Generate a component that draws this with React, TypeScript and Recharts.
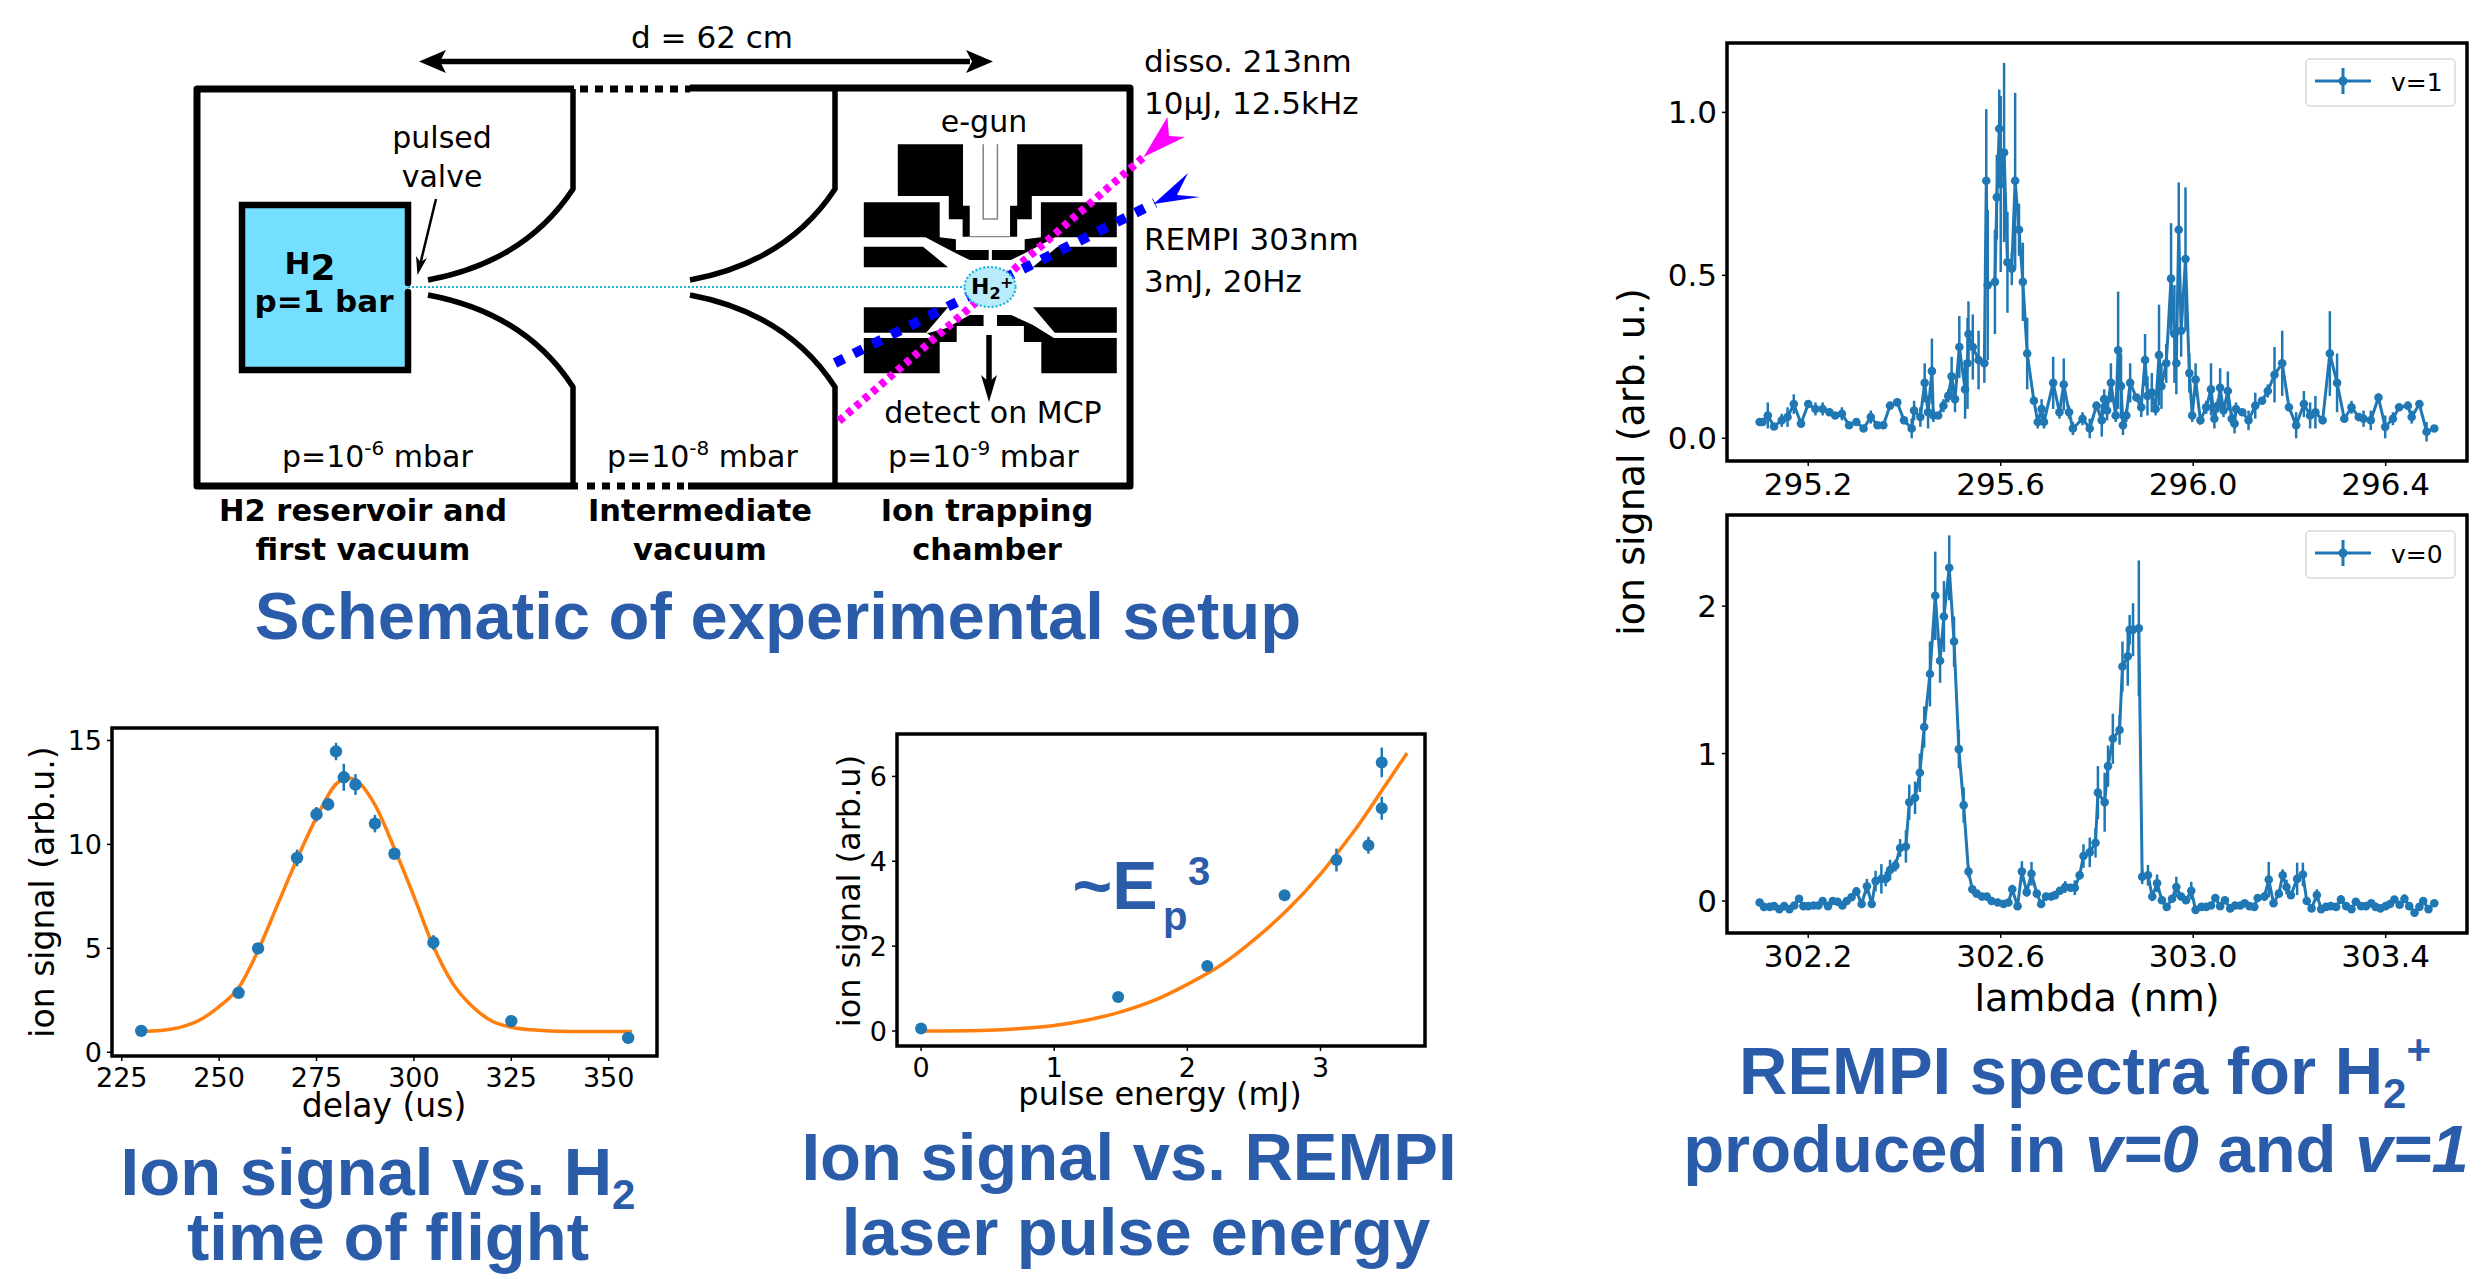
import { ComposedChart, Line, XAxis, YAxis, ErrorBar, ReferenceArea, Legend } from "recharts";

const BLUE = "#1f77b4";
const ORANGE = "#ff7f0e";
const TITLE = "#2a5caa";
const SANS = "'DejaVu Sans'";
const HEAD = "'Liberation Sans'";

// v=1 spectrum
const lambdaV1 = [295.099, 295.105, 295.116, 295.129, 295.145, 295.157, 295.17, 295.185, 295.2, 295.215, 295.23, 295.244, 295.256, 295.27, 295.285, 295.3, 295.315, 295.33, 295.344, 295.356, 295.37, 295.385, 295.399, 295.415, 295.42, 295.433, 295.442, 295.449, 295.457, 295.46, 295.47, 295.481, 295.491, 295.498, 295.505, 295.514, 295.526, 295.531, 295.533, 295.542, 295.554, 295.566, 295.57, 295.573, 295.588, 295.592, 295.597, 295.6, 295.607, 295.614, 295.623, 295.63, 295.638, 295.646, 295.655, 295.669, 295.677, 295.685, 295.69, 295.709, 295.722, 295.731, 295.742, 295.75, 295.77, 295.785, 295.799, 295.81, 295.815, 295.821, 295.829, 295.839, 295.844, 295.85, 295.854, 295.861, 295.869, 295.882, 295.892, 295.9, 295.905, 295.914, 295.922, 295.929, 295.934, 295.944, 295.954, 295.961, 295.965, 295.97, 295.975, 295.984, 295.992, 295.998, 296.005, 296.015, 296.027, 296.037, 296.044, 296.051, 296.056, 296.063, 296.072, 296.08, 296.086, 296.089, 296.102, 296.115, 296.129, 296.143, 296.155, 296.169, 296.185, 296.199, 296.214, 296.23, 296.243, 296.254, 296.269, 296.284, 296.299, 296.314, 296.329, 296.344, 296.354, 296.369, 296.385, 296.399, 296.415, 296.428, 296.446, 296.454, 296.47, 296.485, 296.501];
const signalV1 = [0.05, 0.05, 0.07, 0.036, 0.055, 0.065, 0.105, 0.045, 0.105, 0.09, 0.09, 0.08, 0.07, 0.075, 0.04, 0.05, 0.03, 0.065, 0.04, 0.04, 0.1, 0.11, 0.055, 0.03, 0.085, 0.065, 0.17, 0.08, 0.206, 0.07, 0.07, 0.1, 0.13, 0.19, 0.12, 0.28, 0.15, 0.23, 0.32, 0.28, 0.24, 0.23, 0.79, 0.47, 0.48, 0.74, 0.95, 0.78, 0.877, 0.54, 0.52, 0.79, 0.64, 0.48, 0.26, 0.115, 0.05, 0.09, 0.05, 0.17, 0.08, 0.165, 0.08, 0.03, 0.06, 0.03, 0.1, 0.055, 0.12, 0.085, 0.17, 0.07, 0.27, 0.16, 0.04, 0.07, 0.17, 0.125, 0.095, 0.24, 0.13, 0.14, 0.09, 0.255, 0.16, 0.23, 0.49, 0.32, 0.23, 0.64, 0.33, 0.55, 0.2, 0.07, 0.18, 0.055, 0.095, 0.15, 0.06, 0.1, 0.155, 0.085, 0.145, 0.06, 0.045, 0.09, 0.08, 0.055, 0.1, 0.115, 0.145, 0.195, 0.23, 0.095, 0.04, 0.105, 0.07, 0.08, 0.055, 0.26, 0.17, 0.06, 0.095, 0.065, 0.06, 0.055, 0.125, 0.035, 0.06, 0.095, 0.1, 0.065, 0.105, 0.02, 0.03];
const errorV1 = [0.01, 0.01, 0.04, 0.01, 0.02, 0.03, 0.03, 0.01, 0.01, 0.02, 0.02, 0.01, 0.01, 0.02, 0.01, 0.01, 0.01, 0.02, 0.01, 0.01, 0.01, 0.01, 0.01, 0.03, 0.03, 0.03, 0.06, 0.05, 0.1, 0.02, 0.01, 0.02, 0.02, 0.06, 0.04, 0.095, 0.09, 0.14, 0.1, 0.1, 0.09, 0.06, 0.22, 0.23, 0.16, 0.13, 0.12, 0.27, 0.275, 0.155, 0.05, 0.27, 0.08, 0.12, 0.11, 0.01, 0.02, 0.03, 0.02, 0.08, 0.02, 0.08, 0.02, 0.02, 0.02, 0.03, 0.01, 0.05, 0.03, 0.03, 0.06, 0.02, 0.18, 0.1, 0.03, 0.02, 0.06, 0.01, 0.03, 0.08, 0.06, 0.06, 0.02, 0.155, 0.07, 0.06, 0.17, 0.15, 0.095, 0.145, 0.08, 0.22, 0.06, 0.02, 0.05, 0.01, 0.02, 0.08, 0.03, 0.02, 0.06, 0.02, 0.06, 0.02, 0.03, 0.02, 0.01, 0.03, 0.04, 0.01, 0.02, 0.085, 0.1, 0.01, 0.04, 0.04, 0.04, 0.05, 0.01, 0.13, 0.09, 0.01, 0.02, 0.01, 0.025, 0.03, 0.01, 0.035, 0.02, 0.01, 0.01, 0.02, 0.01, 0.03, 0.01];

// v=0 spectrum
const lambdaV0 = [302.099, 302.108, 302.12, 302.129, 302.14, 302.15, 302.161, 302.171, 302.181, 302.19, 302.2, 302.211, 302.221, 302.23, 302.241, 302.251, 302.261, 302.271, 302.28, 302.29, 302.3, 302.311, 302.322, 302.332, 302.34, 302.352, 302.361, 302.37, 302.381, 302.391, 302.403, 302.41, 302.422, 302.432, 302.441, 302.453, 302.464, 302.474, 302.482, 302.493, 302.503, 302.513, 302.523, 302.533, 302.541, 302.55, 302.561, 302.571, 302.581, 302.594, 302.606, 302.616, 302.624, 302.635, 302.644, 302.654, 302.664, 302.675, 302.684, 302.694, 302.705, 302.713, 302.723, 302.734, 302.745, 302.754, 302.764, 302.772, 302.785, 302.797, 302.802, 302.816, 302.823, 302.833, 302.847, 302.853, 302.864, 302.868, 302.875, 302.887, 302.894, 302.906, 302.915, 302.925, 302.935, 302.945, 302.956, 302.965, 302.975, 302.985, 302.996, 303.005, 303.017, 303.027, 303.037, 303.046, 303.056, 303.066, 303.077, 303.087, 303.098, 303.107, 303.117, 303.127, 303.134, 303.148, 303.157, 303.167, 303.178, 303.186, 303.194, 303.203, 303.216, 303.228, 303.236, 303.246, 303.257, 303.266, 303.276, 303.286, 303.297, 303.307, 303.318, 303.329, 303.338, 303.349, 303.359, 303.37, 303.379, 303.389, 303.4, 303.409, 303.418, 303.429, 303.439, 303.449, 303.46, 303.47, 303.478, 303.489, 303.501];
const signalV0 = [-0.01, -0.04, -0.04, -0.035, -0.055, -0.035, -0.055, -0.03, 0.015, -0.035, -0.035, -0.03, -0.03, 0, -0.035, 0, -0.005, -0.03, 0, 0.025, 0.065, -0.02, 0.1, -0.02, 0.135, 0.15, 0.15, 0.21, 0.24, 0.36, 0.37, 0.67, 0.7, 0.87, 1.18, 1.54, 2.07, 1.63, 1.93, 2.26, 1.76, 1.03, 0.65, 0.2, 0.08, 0.05, 0.03, 0.03, 0, -0.01, -0.02, -0.01, 0.08, -0.035, 0.2, 0.06, 0.185, 0.05, -0.02, 0.03, 0.03, 0.04, 0.07, 0.095, 0.09, 0.09, 0.175, 0.305, 0.33, 0.395, 0.735, 0.67, 0.915, 1.1, 1.16, 1.59, 1.66, 1.84, 1.84, 1.85, 0.165, 0.175, 0.03, 0.12, 0.005, -0.04, 0.015, 0.095, 0.03, 0.005, 0.07, -0.06, -0.04, -0.04, -0.03, 0.02, -0.035, 0.005, -0.05, -0.03, -0.03, -0.015, -0.035, -0.04, 0.02, 0.03, 0.145, -0.015, 0.05, 0.175, 0.095, 0.04, 0.15, 0.18, 0, -0.05, 0.04, -0.055, -0.04, -0.035, -0.04, 0.01, -0.035, -0.055, -0.005, -0.035, -0.035, -0.015, -0.04, -0.05, -0.035, -0.02, 0.01, -0.025, 0.015, -0.035, -0.08, -0.04, 0, -0.055, -0.015];
const errorV0 = [0.01, 0.01, 0.01, 0.01, 0.01, 0.01, 0.01, 0.01, 0.02, 0.01, 0.01, 0.01, 0.01, 0.01, 0.01, 0.01, 0.01, 0.01, 0.01, 0.01, 0.03, 0.01, 0.05, 0.01, 0.07, 0.1, 0.05, 0.07, 0.04, 0.06, 0.11, 0.12, 0.11, 0.13, 0.14, 0.22, 0.3, 0.15, 0.24, 0.22, 0.17, 0.13, 0.12, 0.04, 0.03, 0.01, 0.01, 0.01, 0.01, 0.01, 0.01, 0.01, 0.03, 0.01, 0.07, 0.03, 0.08, 0.01, 0.01, 0.01, 0.01, 0.01, 0.01, 0.04, 0.01, 0.05, 0.03, 0.08, 0.1, 0.1, 0.18, 0.2, 0.14, 0.17, 0.1, 0.17, 0.2, 0.1, 0.18, 0.46, 0.05, 0.07, 0.03, 0.06, 0.01, 0.01, 0.01, 0.07, 0.01, 0.01, 0.06, 0.01, 0.01, 0.01, 0.01, 0.02, 0.01, 0.01, 0.01, 0.01, 0.01, 0.01, 0.01, 0.01, 0.01, 0.03, 0.12, 0.01, 0.01, 0.04, 0.05, 0.01, 0.11, 0.08, 0.01, 0.01, 0.04, 0.01, 0.01, 0.01, 0.01, 0.03, 0.01, 0.01, 0.01, 0.01, 0.01, 0.01, 0.01, 0.01, 0.01, 0.01, 0.01, 0.01, 0.03, 0.01, 0.01, 0.01, 0.01, 0.01, 0.01];

// time of flight
const delayUs = [230, 255, 260, 270, 275, 278, 280, 282, 285, 290, 295, 305, 325, 355];
const delaySignal = [1.03, 2.86, 5.0, 9.35, 11.45, 11.93, 14.47, 13.23, 12.88, 11.0, 9.55, 5.28, 1.5, 0.69];
const delayError = [0.1, 0.1, 0.1, 0.4, 0.35, 0.3, 0.42, 0.65, 0.5, 0.42, 0.1, 0.35, 0.1, 0.1];
const delayFitX = [230, 235, 240, 245, 250, 255, 260, 265, 270, 275, 280, 283, 285, 290, 295, 300, 305, 310, 315, 320, 325, 330, 340, 356];
const delayFitY = [1.0, 1.05, 1.2, 1.55, 2.2, 3.1, 4.9, 7.1, 9.3, 11.3, 12.9, 13.2, 13.1, 11.9, 9.8, 7.5, 5.1, 3.3, 2.2, 1.5, 1.2, 1.08, 1.0, 1.0];

// pulse energy
const energyMj = [0, 1.48, 2.15, 2.73, 3.12, 3.36, 3.46, 3.46];
const energySignal = [0.06, 0.8, 1.53, 3.2, 4.03, 4.38, 5.25, 6.33];
const energyError = [0.05, 0.05, 0.05, 0.08, 0.27, 0.2, 0.27, 0.35];
const energyFitX = [0, 0.5, 0.75, 1, 1.25, 1.5, 1.75, 2, 2.25, 2.5, 2.75, 3, 3.25, 3.5, 3.65];
const energyFitY = [0, 0.02, 0.06, 0.13, 0.26, 0.45, 0.72, 1.1, 1.55, 2.15, 2.85, 3.7, 4.7, 5.85, 6.55];

const ticksV1 = [295.2, 295.6, 296.0, 296.4];
const ticksV0 = [302.2, 302.6, 303.0, 303.4];
const ticksDelay = [225, 250, 275, 300, 325, 350];
const ticksEnergy = [0, 1, 2, 3];

const rows = (xs: number[], ys: number[], es?: number[]) =>
    xs.map((x, i) => ({ x, y: ys[i], e: es ? es[i] : 0 }));

function LegendBox({ label }: { label: string }) {
    return (
        <svg width={152} height={50} style={{ display: "block" }}>
            <rect x={1} y={1} width={149} height={47} rx={4} fill="#fff" stroke="#d9d9d9" strokeWidth={1.5} />
            <line x1={10} x2={66} y1={23} y2={23} stroke={BLUE} strokeWidth={3} />
            <line x1={38} x2={38} y1={10} y2={36} stroke={BLUE} strokeWidth={3} />
            <circle cx={38} cy={23} r={4.5} fill={BLUE} />
            <text x={86} y={33} fontFamily={SANS} fontSize={25} fill="#000">{label}</text>
        </svg>
    );
}

type PanelProps = {
    frame: [number, number, number, number];
    xDomain: [number, number];
    yDomain: [number, number];
    xTicks: number[];
    yTicks: number[];
    points: { x: number; y: number; e: number }[];
    fit?: { x: number; y: number; e: number }[];
    connect?: boolean;
    radius: number;
    fontSize: number;
    decimals: [number, number];
    name?: string;
};

function Panel({ frame, xDomain, yDomain, xTicks, yTicks, points, fit, connect, radius, fontSize, decimals, name }: PanelProps) {
    const [l, t, r, b] = frame;
    const yw = 100;
    const xh = 60;
    const pad = 10;
    return (
        <div style={{ position: "absolute", left: l - yw, top: t - pad }}>
            <ComposedChart
                width={r - l + yw + pad}
                height={b - t + xh + pad}
                margin={{ top: pad, right: pad, bottom: 0, left: 0 }}
            >
                <XAxis
                    type="number"
                    dataKey="x"
                    domain={xDomain}
                    ticks={xTicks}
                    allowDataOverflow
                    axisLine={false}
                    height={xh}
                    tickSize={5}
                    tickMargin={7}
                    interval={0}
                    tick={{ fontSize, fontFamily: SANS, fill: "#000" }}
                    tickLine={{ stroke: "#000", strokeWidth: 1.5 }}
                    tickFormatter={(v: number) => v.toFixed(decimals[0])}
                />
                <YAxis
                    type="number"
                    domain={yDomain}
                    ticks={yTicks}
                    allowDataOverflow
                    axisLine={false}
                    width={yw}
                    tickSize={5}
                    tickMargin={5}
                    interval={0}
                    tick={{ fontSize, fontFamily: SANS, fill: "#000" }}
                    tickLine={{ stroke: "#000", strokeWidth: 1.5 }}
                    tickFormatter={(v: number) => v.toFixed(decimals[1])}
                />
                {fit && (
                    <Line
                        data={fit}
                        dataKey="y"
                        type="monotone"
                        stroke={ORANGE}
                        strokeWidth={3.5}
                        dot={false}
                        legendType="none"
                        isAnimationActive={false}
                    />
                )}
                <Line
                    data={points}
                    dataKey="y"
                    name={name}
                    stroke={connect ? BLUE : "none"}
                    strokeWidth={3}
                    dot={{ r: radius, fill: BLUE, stroke: BLUE, strokeWidth: 0 }}
                    isAnimationActive={false}
                >
                    <ErrorBar dataKey="e" direction="y" width={0} stroke={BLUE} strokeWidth={2.5} isAnimationActive={false} />
                </Line>
                <ReferenceArea
                    x1={xDomain[0]}
                    x2={xDomain[1]}
                    y1={yDomain[0]}
                    y2={yDomain[1]}
                    fill="none"
                    fillOpacity={0}
                    stroke="#000"
                    strokeWidth={3.5}
                    ifOverflow="visible"
                />
                {name && (
                    <Legend
                        layout="horizontal"
                        verticalAlign="middle"
                        align="center"
                        content={() => <LegendBox label={name} />}
                        wrapperStyle={{ position: "absolute", left: 2305 - l + yw, top: t === 43 ? 25 : 25, width: 152, height: 50 }}
                    />
                )}
            </ComposedChart>
        </div>
    );
}

function Sup({ base, sup, tail, ...rest }: any) {
    return (
        <text {...rest}>
            {base}
            <tspan fontSize={20} dy={-12}>{sup}</tspan>
            <tspan dy={12}>{tail}</tspan>
        </text>
    );
}

function Schematic() {
    const t = { fontFamily: SANS, fontSize: 30, fill: "#000" };
    const bold = { fontFamily: SANS, fontSize: 30.5, fontWeight: 700, fill: "#000", textAnchor: "middle" as const };
    const wall = { fill: "none", stroke: "#000", strokeWidth: 5.5 };
    return (
        <g>
            {/* vessel */}
            <path d="M574 89H197V486H578" {...wall} strokeWidth={7} strokeLinejoin="round" />
            <path d="M690 88H1130V486H688" {...wall} strokeWidth={7} strokeLinejoin="round" />
            <line x1={580} x2={690} y1={89} y2={89} stroke="#000" strokeWidth={7} strokeDasharray="8 7" />
            <line x1={587} x2={684} y1={486} y2={486} stroke="#000" strokeWidth={7} strokeDasharray="8 7" />
            <path d="M573 89V189Q525 262 428 280M428 295Q525 313 573 387V486" {...wall} />
            <path d="M835 89V189Q787 262 690 280M690 295Q787 313 835 387V486" {...wall} />

            {/* reservoir */}
            <rect x={242} y={205} width={166} height={165} fill="#75dfff" />
            <path d="M408 283V205H242V370H408V292" fill="none" stroke="#000" strokeWidth={6.5} strokeLinecap="round" />
            <text x={310} y={274} fontFamily={SANS} fontSize={31} fontWeight={700} textAnchor="middle">H<tspan fontSize={36} dy={6}>2</tspan></text>
            <text x={324} y={312} fontFamily={SANS} fontSize={31} fontWeight={700} textAnchor="middle">p=1 bar</text>
            <text x={442} y={148} {...t} textAnchor="middle">pulsed</text>
            <text x={442} y={187} {...t} textAnchor="middle">valve</text>
            <line x1={436} y1={199} x2={420} y2={265} stroke="#000" strokeWidth={2.5} />
            <path d="M417.5 275L416 256L420.5 262L427 258Z" fill="#000" />
            <line x1={408} x2={966} y1={287} y2={287} stroke="#1ab5d8" strokeWidth={2.2} strokeDasharray="2 2" />

            {/* distance arrow */}
            <line x1={440} x2={970} y1={61.5} y2={61.5} stroke="#000" strokeWidth={5.5} />
            <path d="M419 61.5L446 50L440 61.5L446 73Z" fill="#000" />
            <path d="M993 61.5L966 50L972 61.5L966 73Z" fill="#000" />
            <text x={712} y={48} {...t} fontSize={31} textAnchor="middle">d = 62 cm</text>

            {/* trap, drawn on the zoomed grid of the electrode region */}
            <g transform="translate(780 0) scale(0.3953 0.3333)" fill="#000">
                <path d="M298 433H463V617H480V710H462V658H427V588H298Z" />
                <path d="M600 433H765V588H637V658H600V710H582V617H600Z" />
                <path d="M212 607H404V690L404 712L445 718V750H528V780H480L445 760L405 735L368 712H212Z" />
                <path d="M852 607H660V712L619 718V750H536V780H584L619 760L659 735L696 712H852Z" />
                <path d="M212 740H362L425 802H212Z" />
                <path d="M852 740H702L639 802H852Z" />
                <path d="M212 922H425L370 998H212Z" />
                <path d="M212 1014H404V1120H212Z" />
                <path d="M480 945H515V978H447V1026H404L372 1000L420 985Z" />
                <path d="M549 945H585L640 975L693 1014L660 1026H617V978H549Z" />
                <path d="M640 922H852V998H695Z" />
                <path d="M661 1014H852V1120H661Z" />
                <path d="M514 433V657H550V433M480 710H582" fill="none" stroke="#888" strokeWidth={4} />
            </g>

            {/* laser beams */}
            <line x1={839} y1={421} x2={1146} y2={155} stroke="#ff00ff" strokeWidth={8} strokeDasharray="6 5" />
            <path d="M1143.6 157L1167.4 117L1169 136L1185 137Z" fill="#ff00ff" />
            <line x1={835} y1={363} x2={1155} y2={203} stroke="#0000ff" strokeWidth={10} strokeDasharray="10 11" />
            <path d="M1153.5 204L1188 173L1177 195L1200 197Z" fill="#0000ff" />

            <ellipse cx={990} cy={287} rx={25.5} ry={20} fill="#b8ecfb" stroke="#1ab5d8" strokeWidth={2.2} strokeDasharray="2 2" />
            <text x={971} y={294} fontFamily={SANS} fontSize={22} fontWeight={700}>H<tspan fontSize={16} dy={5}>2</tspan></text>
            <text x={1000} y={288} fontFamily={SANS} fontSize={16} fontWeight={700}>+</text>

            <line x1={989} x2={989} y1={335} y2={385} stroke="#000" strokeWidth={5.5} />
            <path d="M989 402L981 375L989 382L997 375Z" fill="#000" />

            {/* annotations */}
            <text x={984} y={132} {...t} textAnchor="middle">e-gun</text>
            <text x={993} y={423} {...t} textAnchor="middle">detect on MCP</text>
            <Sup base="p=10" sup="-9" tail=" mbar" x={888} y={467} {...t} />
            <Sup base="p=10" sup="-6" tail=" mbar" x={282} y={467} {...t} />
            <Sup base="p=10" sup="-8" tail=" mbar" x={607} y={467} {...t} />
            <text x={1144} y={72} {...t} fontSize={31}>disso. 213nm</text>
            <text x={1144} y={114} {...t} fontSize={31}>10µJ, 12.5kHz</text>
            <text x={1144} y={250} {...t} fontSize={31}>REMPI 303nm</text>
            <text x={1144} y={292} {...t} fontSize={31}>3mJ, 20Hz</text>
            <text x={363} y={521} {...bold}>H2 reservoir and</text>
            <text x={363} y={560} {...bold}>first vacuum</text>
            <text x={700} y={521} {...bold}>Intermediate</text>
            <text x={700} y={560} {...bold}>vacuum</text>
            <text x={987} y={521} {...bold}>Ion trapping</text>
            <text x={987} y={560} {...bold}>chamber</text>
        </g>
    );
}

function Annotations() {
    const h = { fontFamily: HEAD, fontWeight: 700, fontSize: 67, fill: TITLE, textAnchor: "middle" as const };
    const axis = { fontFamily: SANS, fill: "#000", textAnchor: "middle" as const };
    return (
        <g>
            <text x={778} y={639} {...h}>Schematic of experimental setup</text>

            <text x={378} y={1195} {...h}>Ion signal vs. H<tspan fontSize={42} dy={14}>2</tspan></text>
            <text x={388} y={1260} {...h}>time of flight</text>
            <text x={1129} y={1180} {...h}>Ion signal vs. REMPI</text>
            <text x={1136} y={1255} {...h}>laser pulse energy</text>
            <text x={2085} y={1094} {...h}>REMPI spectra for H<tspan fontSize={42} dy={14}>2</tspan><tspan fontSize={42} dy={-44}>+</tspan></text>
            <text x={2076} y={1172} {...h}>produced in <tspan fontStyle="italic">v=0</tspan> and <tspan fontStyle="italic">v=1</tspan></text>

            <text x={1115} y={909} fontFamily={HEAD} fontWeight={700} fontSize={68} fill={TITLE} textAnchor="middle">~E</text>
            <text x={1163} y={930} fontFamily={HEAD} fontWeight={700} fontSize={40} fill={TITLE}>p</text>
            <text x={1188} y={885} fontFamily={HEAD} fontWeight={700} fontSize={40} fill={TITLE}>3</text>

            <text transform="translate(1644 462) rotate(-90)" {...axis} fontSize={38}>ion signal (arb. u.)</text>
            <text x={2097} y={1011} {...axis} fontSize={38}>lambda (nm)</text>
            <text transform="translate(54 892) rotate(-90)" {...axis} fontSize={33}>ion signal (arb.u.)</text>
            <text x={384} y={1117} {...axis} fontSize={33}>delay (us)</text>
            <text transform="translate(860 891) rotate(-90)" {...axis} fontSize={32}>ion signal (arb.u)</text>
            <text x={1160} y={1105} {...axis} fontSize={32}>pulse energy (mJ)</text>
        </g>
    );
}

export default function App() {
    return (
        <div style={{ position: "absolute", left: 0, top: 0, width: 2485, height: 1279, overflow: "hidden", background: "#fff" }}>
            <svg width={2485} height={1279} style={{ position: "absolute", left: 0, top: 0 }}>
                <Schematic />
                <Annotations />
            </svg>
            <Panel
                frame={[1727, 43, 2467, 461]}
                xDomain={[295.0312, 296.569]}
                yDomain={[-0.0698, 1.213]}
                xTicks={ticksV1}
                yTicks={[0, 0.5, 1]}
                points={rows(lambdaV1, signalV1, errorV1)}
                connect
                radius={4.3}
                fontSize={31}
                decimals={[1, 1]}
                name="v=1"
            />
            <Panel
                frame={[1727, 515, 2467, 933]}
                xDomain={[302.0312, 303.569]}
                yDomain={[-0.217, 2.618]}
                xTicks={ticksV0}
                yTicks={[0, 1, 2]}
                points={rows(lambdaV0, signalV0, errorV0)}
                connect
                radius={4.3}
                fontSize={31}
                decimals={[1, 0]}
                name="v=0"
            />
            <Panel
                frame={[112, 728, 657, 1056]}
                xDomain={[222.5, 362.4]}
                yDomain={[-0.18, 15.6]}
                xTicks={ticksDelay}
                yTicks={[0, 5, 10, 15]}
                points={rows(delayUs, delaySignal, delayError)}
                fit={rows(delayFitX, delayFitY)}
                radius={6.2}
                fontSize={27}
                decimals={[0, 0]}
            />
            <Panel
                frame={[897, 734, 1425, 1046]}
                xDomain={[-0.181, 3.785]}
                yDomain={[-0.353, 7]}
                xTicks={ticksEnergy}
                yTicks={[0, 2, 4, 6]}
                points={rows(energyMj, energySignal, energyError)}
                fit={rows(energyFitX, energyFitY)}
                radius={6}
                fontSize={27}
                decimals={[0, 0]}
            />
        </div>
    );
}
